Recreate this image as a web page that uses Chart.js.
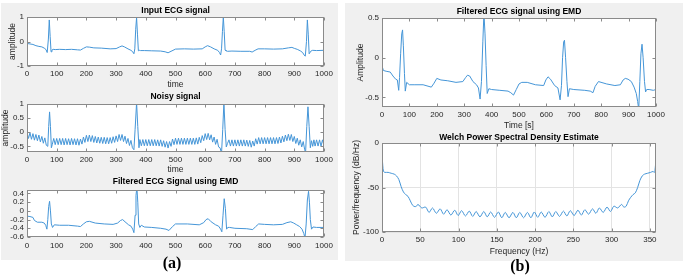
<!DOCTYPE html>
<html>
<head>
<meta charset="utf-8">
<script src="https://cdn.jsdelivr.net/npm/chart.js"></script>
<style>
body{margin:0;width:685px;height:277px;background:#fff;position:relative;overflow:hidden;font-family:"Liberation Sans",Arial,sans-serif}
.panel{position:absolute;background:#f0f0f0}
.plot{position:absolute}
.tag{position:absolute;transform:translate(-50%,-50%);font:bold 16px "Liberation Serif","Times New Roman",serif;color:#000}
</style>
</head>
<body>

<div class="panel" style="left:1px;top:3px;width:337px;height:257px"></div>
<div class="panel" style="left:345px;top:3px;width:338px;height:258px"></div>

<div class="plot" style="left:0;top:0;width:340px;height:90px"><canvas id="inputChart"></canvas></div>
<div class="plot" style="left:0;top:88px;width:340px;height:87px"><canvas id="noisyChart"></canvas></div>
<div class="plot" style="left:0;top:174px;width:340px;height:79px"><canvas id="filtLeftChart"></canvas></div>
<div class="plot" style="left:340px;top:0;width:340px;height:131px"><canvas id="filtRightChart"></canvas></div>
<div class="plot" style="left:340px;top:126px;width:340px;height:131px"><canvas id="psdChart"></canvas></div>

<div class="tag" style="left:172px;top:263px">(a)</div>
<div class="tag" style="left:520px;top:266px">(b)</div>

<script>

// ---- data ----

const timeTicks = [0,100,200,300,400,500,600,700,800,900,1000];
const freqTicks = [0,50,100,150,200,250,300,350];

const inputTicks = [-1,0,1];
const noisyTicks = [-0.5,0,0.5,1];
const filtLeftTicks = [-0.6,-0.4,-0.2,0,0.2,0.4];
const filtRightTicks = [-0.5,0,0.5];
const powerTicks = [-100,-50,0];

// input ECG signal
const inputTime = [0,10,20,30,40,50,58,64,68,72,
75,78,81,84,88,95,110,130,150,170,
180,190,200,210,225,250,280,300,312,320,
328,340,350,356,360,363,366,369,372,375,
378,382,395,420,450,465,475,485,500,530,
560,590,600,608,618,630,642,648,652,655,
658,661,664,667,670,675,690,720,750,758,
768,778,800,830,860,880,892,900,910,920,
928,933,937,941,944,947,950,953,957,962,
975,1000];
const inputAmp = [-0.08,-0.10,-0.12,-0.17,-0.20,-0.22,-0.27,-0.33,-0.45,0.10,
0.88,0.20,-0.42,-0.35,-0.32,-0.33,-0.32,-0.33,-0.32,-0.34,
-0.35,-0.28,-0.22,-0.23,-0.26,-0.27,-0.30,-0.29,-0.22,-0.18,
-0.22,-0.30,-0.36,-0.42,-0.50,-0.30,0.50,0.98,0.30,-0.38,
-0.36,-0.37,-0.37,-0.38,-0.39,-0.42,-0.46,-0.40,-0.31,-0.30,
-0.31,-0.30,-0.22,-0.17,-0.22,-0.30,-0.36,-0.45,-0.55,-0.30,
0.40,1.00,0.40,-0.35,-0.38,-0.40,-0.39,-0.40,-0.40,-0.43,
-0.36,-0.30,-0.30,-0.31,-0.30,-0.26,-0.24,-0.28,-0.32,-0.38,
-0.45,-0.55,-0.60,0.00,0.88,0.30,-0.50,-0.45,-0.38,-0.36,
-0.37,-0.36];

// noisy signal
const noisyTime = [0,5,10,15,20,25,30,35,40,45,
50,55,60,65,70,73,76,79,82,85,
90,95,100,105,110,115,120,125,130,135,
140,145,150,155,160,165,170,175,180,185,
190,195,200,205,210,215,220,225,230,235,
240,245,250,255,260,265,270,275,280,285,
290,295,300,305,310,315,320,325,330,335,
340,345,350,355,360,364,369,373,377,380,
385,390,395,400,405,410,415,420,425,430,
435,440,445,450,455,460,465,470,475,480,
485,490,495,500,505,510,515,520,525,530,
535,540,545,550,555,560,565,570,575,580,
585,590,595,600,605,610,615,620,625,630,
635,640,645,650,655,659,663,667,671,675,
680,685,690,695,700,705,710,715,720,725,
730,735,740,745,750,755,760,765,770,775,
780,785,790,795,800,805,810,815,820,825,
830,835,840,845,850,855,860,865,870,875,
880,885,890,895,900,905,910,915,920,925,
930,935,938,942,946,950,954,958,962,966,
970,975,980,985,990,995,1000];
const noisyAmp = [0.00,-0.22,-0.02,-0.25,-0.05,-0.28,-0.08,-0.30,-0.10,-0.34,
-0.15,-0.39,-0.20,-0.46,-0.50,0.20,0.72,0.20,-0.55,-0.44,
-0.22,-0.44,-0.22,-0.44,-0.22,-0.44,-0.22,-0.45,-0.22,-0.44,
-0.23,-0.45,-0.22,-0.44,-0.23,-0.45,-0.23,-0.46,-0.24,-0.42,
-0.17,-0.36,-0.11,-0.33,-0.10,-0.33,-0.12,-0.36,-0.15,-0.38,
-0.17,-0.39,-0.18,-0.40,-0.18,-0.41,-0.19,-0.41,-0.19,-0.39,
-0.16,-0.36,-0.13,-0.33,-0.08,-0.29,-0.08,-0.33,-0.14,-0.40,
-0.22,-0.47,-0.29,-0.55,-0.62,0.10,1.05,0.20,-0.55,-0.26,
-0.48,-0.26,-0.48,-0.26,-0.48,-0.26,-0.48,-0.26,-0.48,-0.26,
-0.48,-0.27,-0.49,-0.27,-0.50,-0.30,-0.53,-0.33,-0.56,-0.33,
-0.50,-0.24,-0.44,-0.21,-0.43,-0.21,-0.43,-0.21,-0.43,-0.21,
-0.43,-0.21,-0.43,-0.21,-0.43,-0.21,-0.43,-0.20,-0.42,-0.18,
-0.37,-0.12,-0.30,-0.05,-0.26,-0.04,-0.27,-0.09,-0.35,-0.17,
-0.43,-0.25,-0.52,-0.55,-0.75,0.10,1.05,0.10,-0.52,-0.40,
-0.27,-0.49,-0.27,-0.49,-0.27,-0.49,-0.27,-0.49,-0.27,-0.49,
-0.27,-0.49,-0.28,-0.50,-0.29,-0.53,-0.31,-0.49,-0.23,-0.42,
-0.19,-0.41,-0.19,-0.41,-0.19,-0.41,-0.19,-0.41,-0.19,-0.41,
-0.19,-0.41,-0.19,-0.40,-0.17,-0.38,-0.14,-0.34,-0.10,-0.30,
-0.07,-0.29,-0.08,-0.33,-0.15,-0.40,-0.21,-0.46,-0.27,-0.52,
-0.33,-0.62,-0.72,0.20,0.90,0.20,-0.55,-0.30,-0.50,-0.27,
-0.49,-0.27,-0.49,-0.27,-0.49,-0.27,-0.48];

// filtered ECG (left panel)
const filtLeftTime = [0,10,20,25,35,50,58,63,67,70,
73,76,79,82,86,92,110,140,170,180,
190,200,210,230,260,290,305,315,322,330,
342,350,356,360,364,367,370,373,376,380,
385,395,420,450,468,478,490,500,540,580,
595,603,610,620,635,645,652,656,660,664,
668,672,676,682,700,740,760,770,780,800,
830,860,875,888,898,908,918,926,932,936,
940,944,948,951,954,958,963,975,990,1000];
const filtLeftAmp = [-0.12,-0.13,-0.15,-0.22,-0.26,-0.26,-0.28,-0.33,-0.42,-0.20,
0.10,0.22,0.00,-0.30,-0.38,-0.32,-0.33,-0.33,-0.35,-0.36,
-0.30,-0.25,-0.24,-0.28,-0.30,-0.31,-0.28,-0.22,-0.20,-0.25,
-0.32,-0.35,-0.42,-0.50,-0.10,0.35,0.55,0.20,-0.30,-0.38,
-0.33,-0.37,-0.38,-0.40,-0.42,-0.45,-0.36,-0.30,-0.30,-0.32,
-0.27,-0.20,-0.18,-0.25,-0.32,-0.35,-0.42,-0.48,-0.10,0.28,
0.05,-0.42,-0.38,-0.38,-0.40,-0.41,-0.43,-0.36,-0.30,-0.31,
-0.32,-0.31,-0.27,-0.25,-0.28,-0.32,-0.36,-0.42,-0.52,-0.62,
-0.30,0.25,0.45,0.20,-0.20,-0.42,-0.37,-0.38,-0.38,-0.38];

// filtered ECG (right panel)
const filtRightTime = [0,5,15,30,40,50,56,61,64,68,
72,75,78,82,85,90,100,120,150,180,
190,200,215,240,270,295,305,312,320,332,
345,352,358,363,368,372,376,380,384,390,
400,430,460,470,480,490,500,510,530,560,
590,598,606,615,630,642,650,655,659,663,
666,670,675,679,684,700,740,760,770,778,
790,820,850,870,880,888,898,910,920,928,
933,937,941,945,949,953,958,962,966,975,
990,1000];
const filtRightAmp = [-0.10,-0.16,-0.17,-0.18,-0.23,-0.27,-0.28,-0.41,-0.25,0.05,
0.30,0.35,0.15,-0.20,-0.42,-0.31,-0.34,-0.34,-0.34,-0.37,
-0.32,-0.26,-0.28,-0.29,-0.31,-0.30,-0.25,-0.22,-0.23,-0.30,
-0.34,-0.38,-0.52,-0.30,0.20,0.56,0.30,-0.10,-0.45,-0.39,
-0.40,-0.41,-0.42,-0.44,-0.47,-0.40,-0.33,-0.31,-0.31,-0.34,
-0.35,-0.28,-0.24,-0.27,-0.35,-0.38,-0.53,-0.35,0.00,0.20,
0.22,0.00,-0.30,-0.49,-0.39,-0.40,-0.41,-0.42,-0.44,-0.36,
-0.30,-0.33,-0.35,-0.34,-0.28,-0.26,-0.27,-0.30,-0.37,-0.45,
-0.55,-0.65,-0.30,0.05,0.17,0.00,-0.30,-0.43,-0.40,-0.40,
-0.41,-0.40];

// Welch PSD
const psdFreq = [0,1,2,4,8,12,16,19,22,25,
28,31,34,37,40,43,45,47,52,57,
61.5,66,71,76,80.5,85,90,95,99.5,104,
109,114,118.5,123,128,133,137.5,142,147,152,
156.5,161,166,171,175.5,180,185,190,194.5,199,
203.5,208,213,218,222.5,227,232,237,241.5,246,
251,256,260.5,265,270,275,279.5,284,289,294,
298.5,303,308,313,316,319,322,325,328,331,
334,337,340,343,347,351,354,356,357,358];
const psdPower = [-13,-25,-32,-33,-33,-34,-35,-37,-41,-49,
-55,-58,-60,-65,-70,-71.5,-71,-69,-73,-72,
-78,-73,-79,-74,-80,-75,-81,-75.5,-81.5,-76,
-82,-76.5,-82.5,-77,-83,-77,-83,-77.5,-83.5,-77.5,
-84,-78,-84,-78,-84,-78,-84,-78,-84,-77.5,
-83.5,-77.5,-83.5,-77,-83,-77,-82.5,-76.5,-82,-76,
-81.5,-75.5,-81,-75,-80,-74,-79,-73,-78,-72,
-77,-71,-73,-69,-72,-71,-65,-61,-58,-56,
-50,-42,-37,-35,-34,-33,-32,-33,-28,-18];

// ---- drawing ----

const lineColor = "#4596d8";
const axisColor = "#8a8a8a";
const textColor = "#262626";
const gridColor = "#e3e3e3";

Chart.defaults.font.family = '"Liberation Sans", Arial, sans-serif';

const boxPlugin = {
    id: "matlabBox",
    beforeDraw(chart){
        const {ctx, chartArea: a} = chart;
        ctx.save();
        ctx.fillStyle = "#fff";
        ctx.fillRect(a.left, a.top, a.right - a.left, a.bottom - a.top);
        ctx.restore();
    },
    afterDatasetsDraw(chart){
        const {ctx, chartArea: a, scales} = chart;
        const l = Math.round(a.left) + 0.5;
        const r = Math.round(a.right) - 0.5;
        const t = Math.round(a.top) + 0.5;
        const b = Math.round(a.bottom) - 0.5;
        ctx.save();
        ctx.strokeStyle = axisColor;
        ctx.lineWidth = 1;
        ctx.strokeRect(l, t, r - l, b - t);
        ctx.beginPath();
        scales.x.ticks.forEach(tk => {
            const p = Math.round(scales.x.getPixelForValue(tk.value)) + 0.5;
            ctx.moveTo(p, b); ctx.lineTo(p, b - 3);
            ctx.moveTo(p, t); ctx.lineTo(p, t + 3);
        });
        scales.y.ticks.forEach(tk => {
            const p = Math.round(scales.y.getPixelForValue(tk.value)) + 0.5;
            ctx.moveTo(l, p); ctx.lineTo(l + 3, p);
            ctx.moveTo(r, p); ctx.lineTo(r - 3, p);
        });
        ctx.stroke();
        ctx.restore();
    }
};

function makePlot(id, o){

    let points = o.xs.map((x, i) => ({x: x, y: o.ys[i]}));

    return new Chart(document.getElementById(id), {
        type: "line",
        data: {
            datasets: [{
                data: points,
                borderColor: lineColor,
                borderWidth: 1,
                pointRadius: 0,
                tension: o.tension || 0,
                fill: false
            }]
        },
        options: {
            responsive: true,
            maintainAspectRatio: false,
            animation: false,
            events: [],
            layout: {
                autoPadding: false,
                padding: {left: 0, top: 0, bottom: 0, right: o.padRight}
            },
            plugins: {
                legend: {display: false},
                tooltip: {enabled: false},
                title: {
                    display: true,
                    text: o.title,
                    fullSize: false,
                    color: "#000",
                    font: {size: 8.5, weight: "bold", lineHeight: "10px"},
                    padding: {top: o.titleTop, bottom: o.titleBottom}
                }
            },
            scales: {
                x: {
                    type: "linear",
                    min: o.xMin,
                    max: o.xMax,
                    afterBuildTicks: s => { s.ticks = o.xTicks.map(v => ({value: v})); },
                    afterFit: s => { s.height = o.xHeight; s.paddingLeft = 0; s.paddingRight = 0; },
                    grid: {display: !!o.grid, drawTicks: false, color: gridColor},
                    border: {display: false},
                    ticks: {
                        autoSkip: false, maxRotation: 0, minRotation: 0,
                        padding: o.xPad, color: textColor, font: {size: 8},
                        callback: v => String(v)
                    },
                    title: {
                        display: !!o.xLabel, text: o.xLabel || "",
                        color: textColor, font: {size: 8.5, lineHeight: "10px"},
                        padding: {top: 0, bottom: 0}
                    }
                },
                y: {
                    type: "linear",
                    min: o.yMin,
                    max: o.yMax,
                    afterBuildTicks: s => { s.ticks = o.yTicks.map(v => ({value: v})); },
                    afterFit: s => { s.width = o.yWidth; s.paddingTop = 0; s.paddingBottom = 0; },
                    grid: {display: !!o.grid, drawTicks: false, color: gridColor},
                    border: {display: false},
                    ticks: {
                        autoSkip: false, padding: 3, color: textColor, font: {size: 8},
                        callback: v => String(v)
                    },
                    title: {
                        display: !!o.yLabel, text: o.yLabel || "",
                        color: textColor, font: {size: 8.5, lineHeight: "10px"},
                        padding: {top: o.yTitlePad || 0, bottom: 0}
                    }
                }
            }
        },
        plugins: [boxPlugin]
    });
}

makePlot("inputChart", {
    xs: inputTime, ys: inputAmp, title: "Input ECG signal",
    xMin: 0, xMax: 1000, xTicks: timeTicks, yMin: -1, yMax: 1, yTicks: inputTicks,
    xLabel: "time", yLabel: "amplitude",
    titleTop: 6, titleBottom: 1, yWidth: 27, yTitlePad: 8, xHeight: 24, xPad: 3, padRight: 16
});

makePlot("noisyChart", {
    xs: noisyTime, ys: noisyAmp, title: "Noisy signal",
    xMin: 0, xMax: 1000, xTicks: timeTicks, yMin: -0.7, yMax: 1, yTicks: noisyTicks,
    xLabel: "time", yLabel: "amplitude",
    titleTop: 4, titleBottom: 2, yWidth: 27, yTitlePad: 1, xHeight: 23, xPad: 3, padRight: 16
});

makePlot("filtLeftChart", {
    xs: filtLeftTime, ys: filtLeftAmp, title: "Filtered ECG Signal using EMD",
    xMin: 0, xMax: 1000, xTicks: timeTicks, yMin: -0.6, yMax: 0.48, yTicks: filtLeftTicks,
    titleTop: 3, titleBottom: 3, yWidth: 27, xHeight: 16, xPad: 4, padRight: 16
});

makePlot("filtRightChart", {
    xs: filtRightTime, ys: filtRightAmp, title: "Filtered ECG signal using EMD",
    xMin: 0, xMax: 1000, xTicks: timeTicks, yMin: -0.62, yMax: 0.5, yTicks: filtRightTicks,
    xLabel: "Time [s]", yLabel: "Amplitude",
    titleTop: 7, titleBottom: 1, yWidth: 42, yTitlePad: 16, xHeight: 24, xPad: 3, padRight: 24
});

makePlot("psdChart", {
    xs: psdFreq, ys: psdPower, title: "Welch Power Spectral Density Estimate",
    xMin: 0, xMax: 358, xTicks: freqTicks, yMin: -100, yMax: 0, yTicks: powerTicks,
    xLabel: "Frequency (Hz)", yLabel: "Power/frequency (dB/Hz)",
    titleTop: 7, titleBottom: 0, yWidth: 42, yTitlePad: 12, xHeight: 25, xPad: 3, padRight: 24,
    grid: true, tension: 0.3
});

</script>
</body>
</html>
